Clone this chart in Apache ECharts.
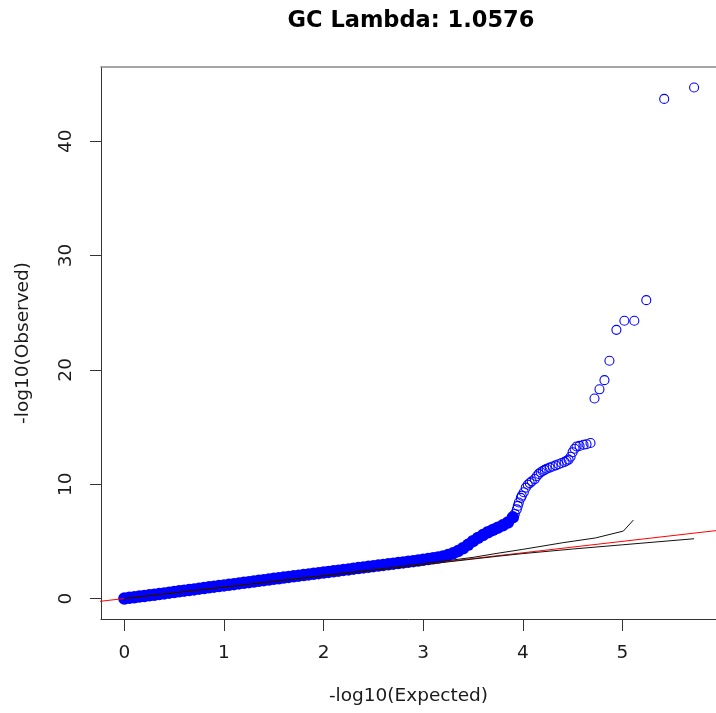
<!DOCTYPE html>
<html>
<head>
<meta charset="utf-8">
<script src="https://cdn.jsdelivr.net/npm/echarts@6/dist/echarts.min.js"></script>
<style>
html,body{margin:0;padding:0;background:#fff;}
#chart{width:716px;height:713px;}
</style>
</head>
<body>
<div id="chart"></div>
<script>
// ---- data ----
const titleText = 'GC Lambda: 1.0576';
const xName = '-log10(Expected)';
const yName = '-log10(Observed)';
const xTicks = [0, 1, 2, 3, 4, 5];
const yTicks = [0, 10, 20, 30, 40];

// dense part of the observed curve (points overlap into a solid band)
const denseExp = [0.00,0.05,0.10,0.15,0.20,0.25,0.30,0.35,0.40,0.45,0.50,0.55,0.60,0.65,0.70,0.75,0.80,0.85,0.90,0.95,
  1.00,1.05,1.10,1.15,1.20,1.25,1.30,1.35,1.40,1.45,1.50,1.55,1.60,1.65,1.70,1.75,1.80,1.85,1.90,1.95,
  2.00,2.05,2.10,2.15,2.20,2.25,2.30,2.35,2.40,2.45,2.50,2.55,2.60,2.65,2.70,2.75,2.80,2.85,2.90,2.95,
  3.00,3.05,3.10,3.15,3.20,3.25,3.30,3.35,3.40,3.45,3.50,3.55,3.60,3.65,3.70,3.75,3.80,3.85,3.90];
const denseObs = [0.00,0.06,0.11,0.17,0.22,0.28,0.33,0.39,0.45,0.51,0.57,0.63,0.69,0.74,0.80,0.86,0.92,0.98,1.04,1.09,
  1.15,1.20,1.26,1.32,1.38,1.43,1.49,1.55,1.61,1.66,1.72,1.77,1.83,1.89,1.94,2.00,2.06,2.11,2.17,2.22,
  2.28,2.33,2.39,2.44,2.50,2.55,2.61,2.66,2.72,2.77,2.83,2.88,2.94,2.99,3.05,3.10,3.16,3.21,3.27,3.33,
  3.39,3.45,3.52,3.59,3.68,3.80,3.95,4.15,4.40,4.70,5.02,5.30,5.55,5.80,6.00,6.20,6.40,6.65,7.10];

// sparser tail: individual open circles
const tailExp = [3.92,3.94,3.95,3.96,3.98,3.99,4.01,4.03,4.05,4.07,4.09,4.12,4.14,4.16,4.18,4.20,4.22,4.24,4.27,4.30,
  4.33,4.36,4.39,4.42,4.44,4.46,4.48,4.50,4.52,4.54,4.57,4.61,4.64,4.68,
  4.72,4.77,4.82,4.87,4.94,5.02,5.12,5.24,5.42,5.72];
const tailObs = [7.40,7.80,8.10,8.40,8.80,9.00,9.30,9.70,9.95,10.10,10.25,10.45,10.70,10.90,11.05,11.15,11.25,11.35,11.45,11.55,
  11.65,11.75,11.85,11.95,12.05,12.15,12.40,12.80,13.10,13.30,13.35,13.45,13.50,13.60,
  17.5,18.3,19.1,20.8,23.5,24.3,24.3,26.1,43.7,44.7];

// confidence band lines
const upperExp = [0, 1, 2, 3, 3.5, 3.74, 4.0, 4.4, 4.73, 5.01, 5.11];
const upperObs = [0, 1.01, 2.02, 3.04, 3.6, 3.95, 4.3, 4.88, 5.3, 5.9, 6.86];
const lowerExp = [0, 1, 2, 3, 3.75, 4.0, 4.5, 5.0, 5.72];
const lowerObs = [0, 0.99, 1.97, 2.96, 3.7, 3.93, 4.33, 4.7, 5.23];

// y = x reference line
const refExp = [-1, 7];
const refObs = [-1, 7];

// ---- build ----
const zip = (a, b) => a.map((v, i) => [v, b[i]]);
const font = 'DejaVu Sans';
const chart = echarts.init(document.getElementById('chart'), null, {renderer: 'canvas'});
chart.setOption({
  animation: false,
  backgroundColor: '#ffffff',
  graphic: [{
    type: 'text', x: 411, y: 21,
    style: {text: titleText, font: 'bold 22.5px "DejaVu Sans"', fill: '#000', textAlign: 'center', textVerticalAlign: 'middle'}
  }],
  grid: {left: 101, top: 67, width: 620, height: 552, containLabel: false},
  xAxis: [{
    type: 'value', min: -0.235, max: 5.94, position: 'bottom',
    axisLine: {show: true, onZero: false, lineStyle: {color: '#333', width: 1}},
    axisTick: {show: true, customValues: xTicks, length: 12, lineStyle: {color: '#333', width: 1}},
    axisLabel: {show: true, customValues: xTicks, margin: 25, fontSize: 18.5, fontFamily: font, color: '#1a1a1a'},
    splitLine: {show: false},
    name: xName, nameLocation: 'middle', nameGap: 68,
    nameTextStyle: {fontSize: 18.5, fontFamily: font, color: '#1a1a1a'}
  }, {
    type: 'value', min: -0.235, max: 5.94, position: 'top',
    axisLine: {show: true, onZero: false, lineStyle: {color: '#888', width: 1.5}},
    axisTick: {show: false}, axisLabel: {show: false}, splitLine: {show: false}
  }],
  yAxis: [{
    type: 'value', min: -1.79, max: 46.49, position: 'left',
    axisLine: {show: true, onZero: false, lineStyle: {color: '#333', width: 1}},
    axisTick: {show: true, customValues: yTicks, length: 11, lineStyle: {color: '#333', width: 1}},
    axisLabel: {show: true, customValues: yTicks, rotate: 90, margin: 25, fontSize: 18.5, fontFamily: font, color: '#1a1a1a'},
    splitLine: {show: false},
    name: yName, nameLocation: 'middle', nameGap: 68,
    nameTextStyle: {fontSize: 18.5, fontFamily: font, color: '#1a1a1a'}
  }],
  series: [
    {
      type: 'scatter', xAxisIndex: 0, yAxisIndex: 0, z: 2,
      data: zip(denseExp, denseObs), symbol: 'circle', symbolSize: 12.5,
      itemStyle: {color: '#0000ff', opacity: 1}, silent: true
    },
    {
      type: 'scatter', xAxisIndex: 0, yAxisIndex: 0, z: 2,
      data: zip(tailExp, tailObs), symbol: 'circle', symbolSize: 9,
      itemStyle: {color: 'rgba(0,0,0,0)', borderColor: '#0000ff', borderWidth: 1.1, opacity: 1}, silent: true
    },
    {
      type: 'line', xAxisIndex: 0, yAxisIndex: 0, z: 3, clip: true,
      data: zip(refExp, refObs), showSymbol: false, symbol: 'none',
      lineStyle: {color: '#ff0000', width: 1}, silent: true
    },
    {
      type: 'line', xAxisIndex: 0, yAxisIndex: 0, z: 4, clip: true,
      data: zip(upperExp, upperObs), showSymbol: false, symbol: 'none',
      lineStyle: {color: '#111', width: 1}, silent: true
    },
    {
      type: 'line', xAxisIndex: 0, yAxisIndex: 0, z: 4, clip: true,
      data: zip(lowerExp, lowerObs), showSymbol: false, symbol: 'none',
      lineStyle: {color: '#111', width: 1}, silent: true
    }
  ]
});
</script>
</body>
</html>
